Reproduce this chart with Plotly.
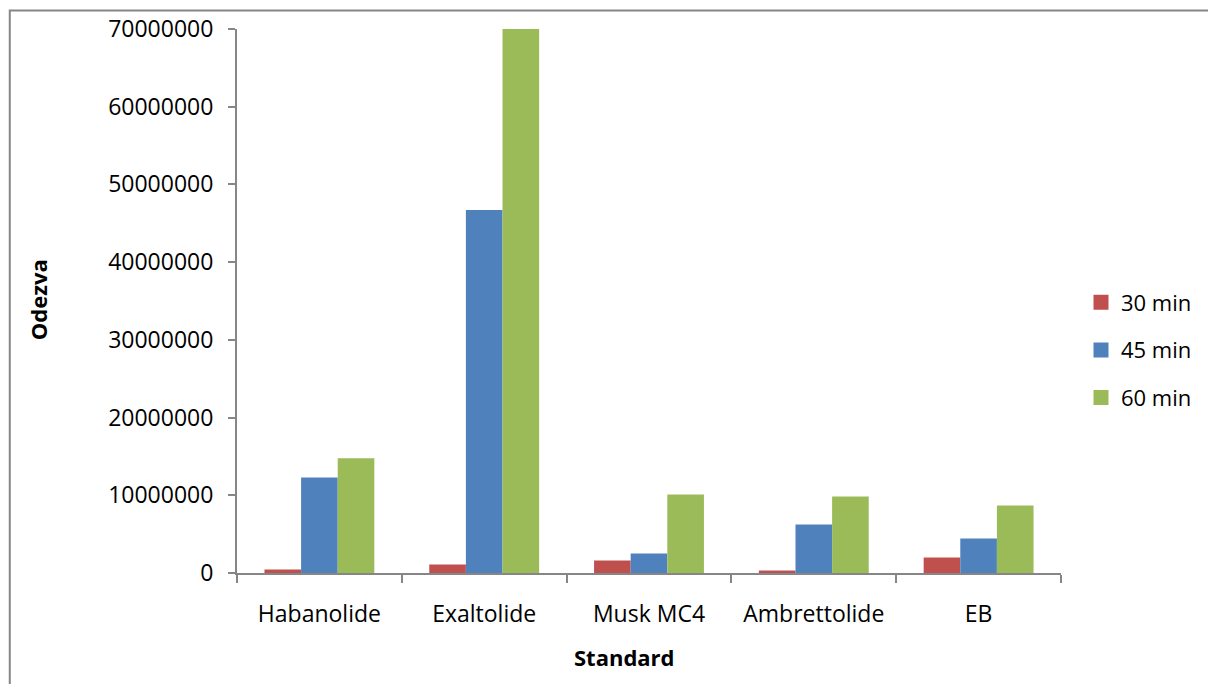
import plotly.graph_objects as go

categories = ["Habanolide", "Exaltolide", "Musk MC4", "Ambrettolide", "EB"]
series_names = ["30 min", "45 min", "60 min"]
values_30 = [450000, 1100000, 1600000, 320000, 2000000]
values_45 = [12300000, 46700000, 2500000, 6250000, 4450000]
values_60 = [14750000, 70000000, 10100000, 9850000, 8700000]
colors = ["#C0504D", "#4F81BD", "#9BBB59"]
y_ticks = [0, 10000000, 20000000, 30000000, 40000000, 50000000, 60000000, 70000000]

W, H = 1208, 684
L, R, T, B = 237, 146, 29, 111
pw, ph = W - L - R, H - T - B

def px_x(px):
    return (px - L) / pw

def px_y(py):
    return (T + ph - py) / ph

fig = go.Figure()
for i, (name, vals) in enumerate(zip(series_names, [values_30, values_45, values_60])):
    fig.add_trace(go.Bar(
        x=categories, y=vals, name=name, marker_color=colors[i],
        marker_line_width=0, showlegend=False,
    ))
# legend keys drawn as larger squares
for i, name in enumerate(series_names):
    fig.add_trace(go.Scatter(
        x=[None], y=[None], mode="markers", name=name, legendgroup=name,
        marker=dict(symbol="square", size=15, color=colors[i]),
    ))

font = "Open Sans"
axis_col = "#868686"

fig.update_layout(
    width=W, height=H,
    margin=dict(l=L, r=R, t=T, b=B, pad=0),
    paper_bgcolor="white", plot_bgcolor="white",
    barmode="group", bargap=1/3, bargroupgap=0,
    font=dict(family=font, size=23, color="#000000"),
    showlegend=True,
    legend=dict(
        x=px_x(1081), xanchor="left",
        y=px_y(350), yanchor="middle",
        font=dict(size=22), tracegroupgap=16, bgcolor="rgba(0,0,0,0)",
    ),
    xaxis=dict(
        showline=True, linecolor=axis_col, linewidth=2,
        ticks="outside", tickson="boundaries", ticklen=8, tickcolor=axis_col, tickwidth=2,
        showgrid=False, zeroline=False,
        tickfont=dict(size=23), ticklabelstandoff=19,
    ),
    yaxis=dict(
        range=[0, 70000000], tickvals=y_ticks,
        ticktext=[str(v) for v in y_ticks],
        showline=True, linecolor=axis_col, linewidth=2,
        ticks="outside", ticklen=7, tickcolor=axis_col, tickwidth=2,
        showgrid=False, zeroline=False,
        tickfont=dict(size=23), ticklabelstandoff=10,
    ),
    annotations=[
        dict(text="<b>Standard</b>", xref="paper", yref="paper",
             x=px_x(625), y=px_y(657), xanchor="center", yanchor="middle",
             showarrow=False, font=dict(size=22)),
        dict(text="<b>Odezva</b>", xref="paper", yref="paper",
             x=px_x(38), y=px_y(300), xanchor="center", yanchor="middle",
             textangle=-90, showarrow=False, font=dict(size=22)),
    ],
)

# chart-area frame
fig.add_shape(
    type="rect", xref="paper", yref="paper",
    x0=px_x(9.5), x1=px_x(W + 20),
    y0=px_y(H + 20), y1=px_y(10.5),
    line=dict(color=axis_col, width=2), fillcolor="rgba(0,0,0,0)", layer="below",
)

fig.write_html("out.html")
